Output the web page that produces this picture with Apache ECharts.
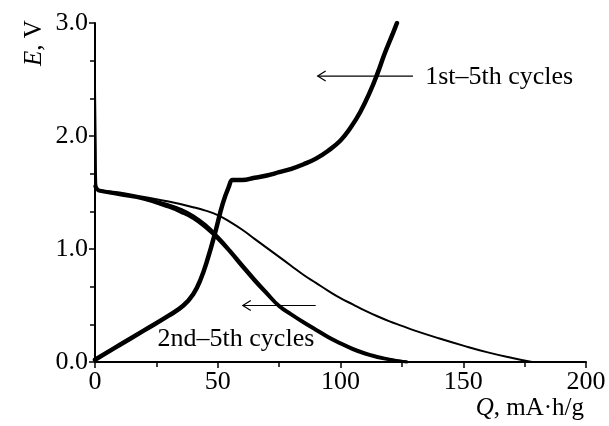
<!DOCTYPE html>
<html>
<head>
<meta charset="utf-8">
<script src="https://cdn.jsdelivr.net/npm/echarts@6/dist/echarts.min.js"></script>
<style>
  html, body { margin: 0; padding: 0; background: #fff; }
  #chart { width: 609px; height: 426px; }
</style>
</head>
<body>
<div id="chart"></div>
<script>
// charge curve, 1st-5th cycles (overlapping)
const chargeQ = [0, 10, 20, 30, 36, 40, 43, 46, 49, 52, 54.5, 56, 58, 60, 65, 70, 75, 80, 85, 90, 95, 100, 104, 108, 112, 115, 118, 121, 123]
const chargeE = [0.02, 0.15, 0.28, 0.41, 0.5, 0.6, 0.73, 0.92, 1.15, 1.4, 1.55, 1.61, 1.61, 1.61, 1.63, 1.65, 1.68, 1.71, 1.75, 1.8, 1.87, 1.96, 2.07, 2.21, 2.39, 2.55, 2.73, 2.89, 3.0]

// 1st discharge (thin)
const dis1Q = [0, 0.3, 0.5, 1, 2, 10, 20, 30, 40, 45, 50, 55, 60, 65, 70, 75, 80, 85, 90, 95, 100, 105, 110, 115, 120, 125, 130, 140, 150, 160, 170, 178]
const dis1E = [2.42, 1.9, 1.58, 1.54, 1.52, 1.5, 1.46, 1.42, 1.37, 1.34, 1.3, 1.24, 1.17, 1.09, 1.01, 0.93, 0.85, 0.77, 0.7, 0.63, 0.565, 0.51, 0.455, 0.405, 0.36, 0.32, 0.28, 0.21, 0.145, 0.085, 0.035, 0.0]

// 2nd-5th discharge (bundle)
const dis2Q = [0, 1, 2, 10, 20, 30, 35, 40, 45, 50, 55, 60, 65, 70, 75, 80, 85, 90, 95, 100, 105, 110, 115, 120, 127]
const dis2E = [1.56, 1.53, 1.52, 1.49, 1.45, 1.39, 1.35, 1.295, 1.215, 1.11, 0.99, 0.86, 0.735, 0.615, 0.5, 0.425, 0.355, 0.29, 0.225, 0.17, 0.12, 0.08, 0.05, 0.025, 0.0]
const dis5E = [1.55, 1.52, 1.51, 1.48, 1.44, 1.37, 1.325, 1.27, 1.19, 1.09, 0.97, 0.84, 0.715, 0.6, 0.49, 0.415, 0.345, 0.28, 0.215, 0.16, 0.11, 0.07, 0.04, 0.02, 0.0]

const xTicks = [0, 50, 100, 150, 200]
const yTicks = [0, 1, 2, 3]

const serif = '"Liberation Serif", "DejaVu Serif", serif'

function pairs(xs, ys) {
  return xs.map((x, i) => [x, ys[i]])
}

function lineSeries(data, width) {
  return {
    type: 'line',
    data: data,
    smooth: 0.45,
    showSymbol: false,
    silent: true,
    lineStyle: { color: '#000', width: width, cap: 'round', join: 'round' }
  }
}

let chart = echarts.init(document.getElementById('chart'))
let option = {
  animation: false,
  grid: { left: 95, right: 23, top: 23, bottom: 64 },
  xAxis: {
    type: 'value',
    min: xTicks[0],
    max: xTicks[xTicks.length - 1],
    interval: 50,
    axisLine: { lineStyle: { color: '#000', width: 2 } },
    axisTick: { show: true, length: 6, lineStyle: { color: '#000', width: 1.5 } },
    minorTick: { show: true, splitNumber: 2, length: 5, lineStyle: { color: '#000', width: 1.5 } },
    splitLine: { show: false },
    axisLabel: { color: '#000', fontFamily: serif, fontSize: 26, margin: 7 }
  },
  yAxis: {
    type: 'value',
    min: yTicks[0],
    max: yTicks[yTicks.length - 1],
    interval: 1,
    axisLine: { show: true, lineStyle: { color: '#000', width: 2 } },
    axisTick: { show: true, length: 6, lineStyle: { color: '#000', width: 1.5 } },
    minorTick: { show: true, splitNumber: 3, length: 5, lineStyle: { color: '#000', width: 1.5 } },
    splitLine: { show: false },
    axisLabel: {
      color: '#000', fontFamily: serif, fontSize: 26, margin: 7,
      formatter: v => v.toFixed(1)
    }
  },
  series: [
    lineSeries(pairs(dis1Q, dis1E), 2),
    lineSeries(pairs(dis2Q, dis2E), 3),
    lineSeries(pairs(dis2Q, dis5E), 3),
    lineSeries(pairs(chargeQ, chargeE), 4.5)
  ]
}
chart.setOption(option)

// annotations: arrows and labels, placed in data coords
function px(q, e) {
  return chart.convertToPixel({ gridIndex: 0 }, [q, e])
}
function arrow(q1, q2, e) {
  let a = px(q1, e)
  let b = px(q2, e)
  return [
    { type: 'line', shape: { x1: a[0], y1: a[1], x2: b[0], y2: b[1] }, style: { stroke: '#000', lineWidth: 1.2 } },
    { type: 'polyline', shape: { points: [[b[0] + 8, b[1] - 5], [b[0], b[1]], [b[0] + 8, b[1] + 5]] }, style: { stroke: '#000', fill: null, lineWidth: 1.2 } }
  ]
}
let p1 = px(134.5, 2.52)
let p2 = px(25.5, 0.2)
let graphics = [].concat(
  arrow(129.5, 90.7, 2.53),
  arrow(89.9, 60.2, 0.5),
  [
    { type: 'text', x: p1[0], y: p1[1], style: { text: '1st–5th cycles', fill: '#000', font: '26px ' + serif, textVerticalAlign: 'middle' } },
    { type: 'text', x: p2[0], y: p2[1], style: { text: '2nd–5th cycles', fill: '#000', font: '26px ' + serif, textVerticalAlign: 'middle' } },
    {
      type: 'text', x: 34, y: 43, rotation: Math.PI / 2,
      style: {
        text: '{i|E}, V', fill: '#000', font: '25px ' + serif, align: 'center', verticalAlign: 'middle',
        rich: { i: { fontStyle: 'italic', fontFamily: serif, fontSize: 25 } }
      }
    },
    {
      type: 'text', right: 25, top: 396,
      style: {
        text: '{i|Q}, mA·h/g', fill: '#000', font: '25px ' + serif,
        rich: { i: { fontStyle: 'italic', fontFamily: serif, fontSize: 25 } }
      }
    }
  ]
)
chart.setOption({ graphic: graphics })
</script>
</body>
</html>
